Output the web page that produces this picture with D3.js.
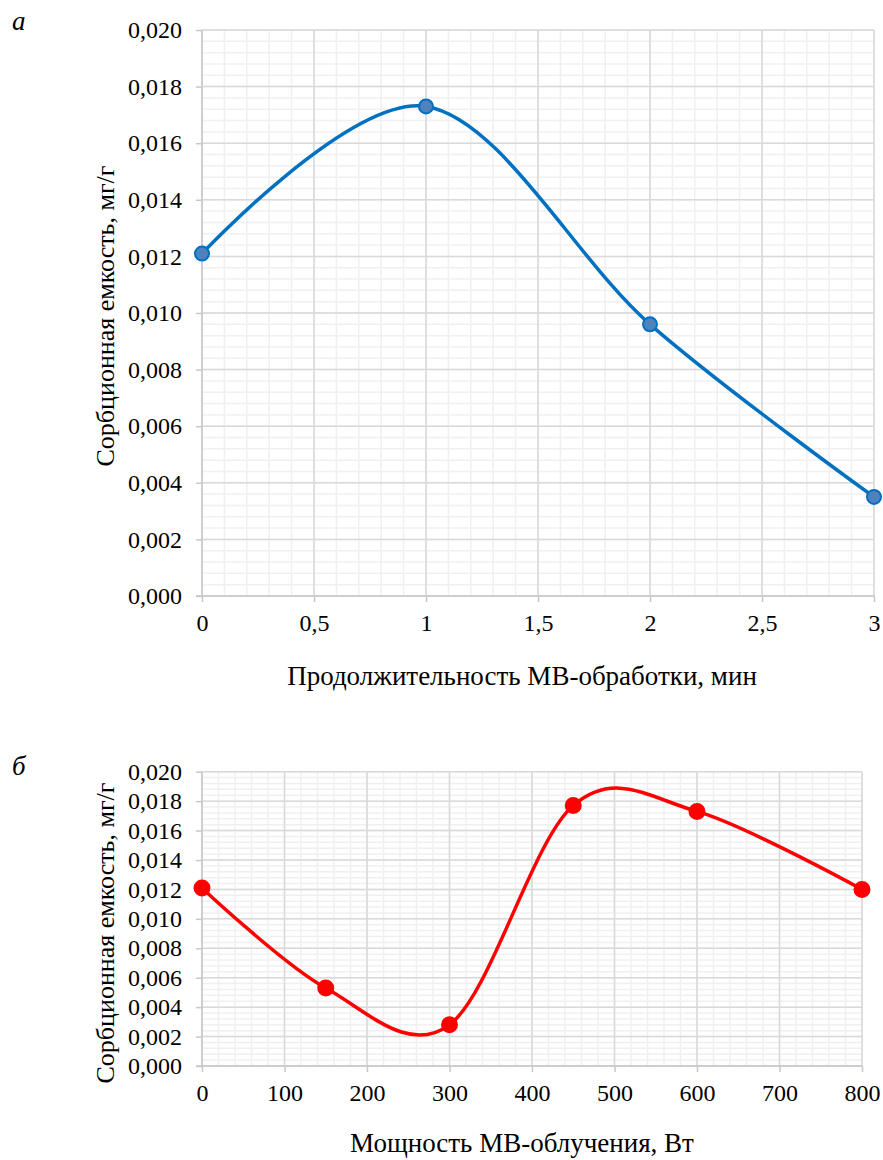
<!DOCTYPE html>
<html><head><meta charset="utf-8">
<script src="https://cdn.jsdelivr.net/npm/d3@7"></script>
<style>
body{margin:0;background:#fff;}
svg text{font-family:"Liberation Serif","Times New Roman",Times,"DejaVu Serif",serif !important;fill:#000;}
</style></head><body>
<svg id="c" width="883" height="1160"></svg>
<script>
// Chart a
const durX = [0, 1, 2, 3];
const durY = [0.0121, 0.0173, 0.0096, 0.0035];
const durTicksX = [0, 0.5, 1, 1.5, 2, 2.5, 3];
const durTickLabelsX = ["0", "0,5", "1", "1,5", "2", "2,5", "3"];
// Chart б
const powX = [0, 150, 300, 450, 600, 800];
const powY = [0.0121, 0.0053, 0.0028, 0.0177, 0.0173, 0.0120];
const powTicksX = [0, 100, 200, 300, 400, 500, 600, 700, 800];
const yTicks = [0, 0.002, 0.004, 0.006, 0.008, 0.010, 0.012, 0.014, 0.016, 0.018, 0.020];
const yTitle = "Сорбционная емкость, мг/г";
const xTitleA = "Продолжительность МВ-обработки, мин";
const xTitleB = "Мощность МВ-облучения, Вт";

const FONT = '"Liberation Serif", "Times New Roman", serif';
const svg = d3.select("#c");
const fmtY = d => d3.format(".3f")(d).replace(".", ",");

function chart(o){
  const g = svg.append("g");
  const x = d3.scaleLinear().domain(o.xDomain).range([o.x0, o.x1]);
  const y = d3.scaleLinear().domain([0, 0.02]).range([o.y1, o.y0]);
  const xMinor = d3.range(o.xDomain[0], o.xDomain[1] + 1e-9, o.xMinor);
  const yMinor = d3.range(0, 0.02 + 1e-9, 0.0004);
  g.selectAll(".mx").data(xMinor).join("line")
    .attr("x1", d => x(d)).attr("x2", d => x(d)).attr("y1", o.y0).attr("y2", o.y1)
    .attr("stroke", "#f0f0f0").attr("stroke-width", 1.5);
  g.selectAll(".my").data(yMinor).join("line")
    .attr("y1", d => y(d)).attr("y2", d => y(d)).attr("x1", o.x0).attr("x2", o.x1)
    .attr("stroke", "#f0f0f0").attr("stroke-width", 1.5);
  g.selectAll(".Mx").data(o.xTicks).join("line")
    .attr("x1", d => x(d)).attr("x2", d => x(d)).attr("y1", o.y0).attr("y2", o.y1)
    .attr("stroke", "#d9d9d9").attr("stroke-width", 1.5);
  g.selectAll(".My").data(yTicks).join("line")
    .attr("y1", d => y(d)).attr("y2", d => y(d)).attr("x1", o.x0).attr("x2", o.x1)
    .attr("stroke", "#d9d9d9").attr("stroke-width", 1.5);
  const ya = d3.axisLeft(y).tickValues(yTicks).tickFormat(fmtY).tickSize(6).tickPadding(14);
  const yg = g.append("g").attr("transform", `translate(${o.x0},0)`).call(ya);
  const xa = d3.axisBottom(x).tickValues(o.xTicks).tickFormat((d,i) => o.xLabels[i]).tickSize(6).tickPadding(12);
  const xg = g.append("g").attr("transform", `translate(0,${o.y1})`).call(xa);
  [yg, xg].forEach(a => {
    a.attr("font-family", FONT).attr("font-size", 24);
    a.select(".domain").attr("stroke", "#c8c8c8").attr("stroke-width", 1.5);
    a.selectAll(".tick line").attr("stroke", "#c8c8c8").attr("stroke-width", 1.5);
    a.selectAll("text").style("font-family", FONT).style("font-size", "24px").attr("fill", "#000");
  });
  yg.select(".domain").attr("d", `M0,${o.y0}V${o.y1}`);
  xg.select(".domain").attr("d", `M${o.x0 - 6},0H${o.x1}`);
  const pts = o.xs.map((d, i) => [x(d), y(o.ys[i])]);
  g.append("path").attr("d", d3.line().curve(d3.curveCardinal.tension(0))(pts))
    .attr("fill", "none").attr("stroke", o.color).attr("stroke-width", 3.5);
  g.selectAll(".pt").data(pts).join("circle")
    .attr("cx", d => d[0]).attr("cy", d => d[1]).attr("r", o.r)
    .attr("fill", o.fill).attr("stroke", o.color).attr("stroke-width", 2);
  g.append("text").attr("x", o.xTitleX).attr("y", o.xTitleY).attr("text-anchor", "middle")
    .style("font-family", FONT).style("font-size", "27px").text(o.xTitle);
  g.append("text").attr("transform", `translate(${o.yTitleX},${o.yTitleC}) rotate(-90)`)
    .attr("text-anchor", "middle").style("font-family", FONT).style("font-size", "26px").text(yTitle);
  g.append("text").attr("x", 12).attr("y", o.letterY).style("font-family", FONT).style("font-size", "27px")
    .attr("font-style", "italic").text(o.letter);
}

chart({xDomain:[0,3], x0:202, x1:874, y0:30, y1:596, xMinor:0.1, xTicks:durTicksX, xLabels:durTickLabelsX,
  xs:durX, ys:durY, color:"#0070C0", fill:"#4F81BD", r:7, xTitle:xTitleA, xTitleX:522, xTitleY:685,
  yTitleX:114, yTitleC:316, letter:"а", letterY:30});
chart({xDomain:[0,800], x0:202, x1:862, y0:771.7, y1:1066, xMinor:20, xTicks:powTicksX, xLabels:powTicksX.map(String),
  xs:powX, ys:powY, color:"#FF0000", fill:"#FF0000", r:7.5, xTitle:xTitleB, xTitleX:522, xTitleY:1152,
  yTitleX:114, yTitleC:933, letter:"б", letterY:775});
</script>
</body></html>
